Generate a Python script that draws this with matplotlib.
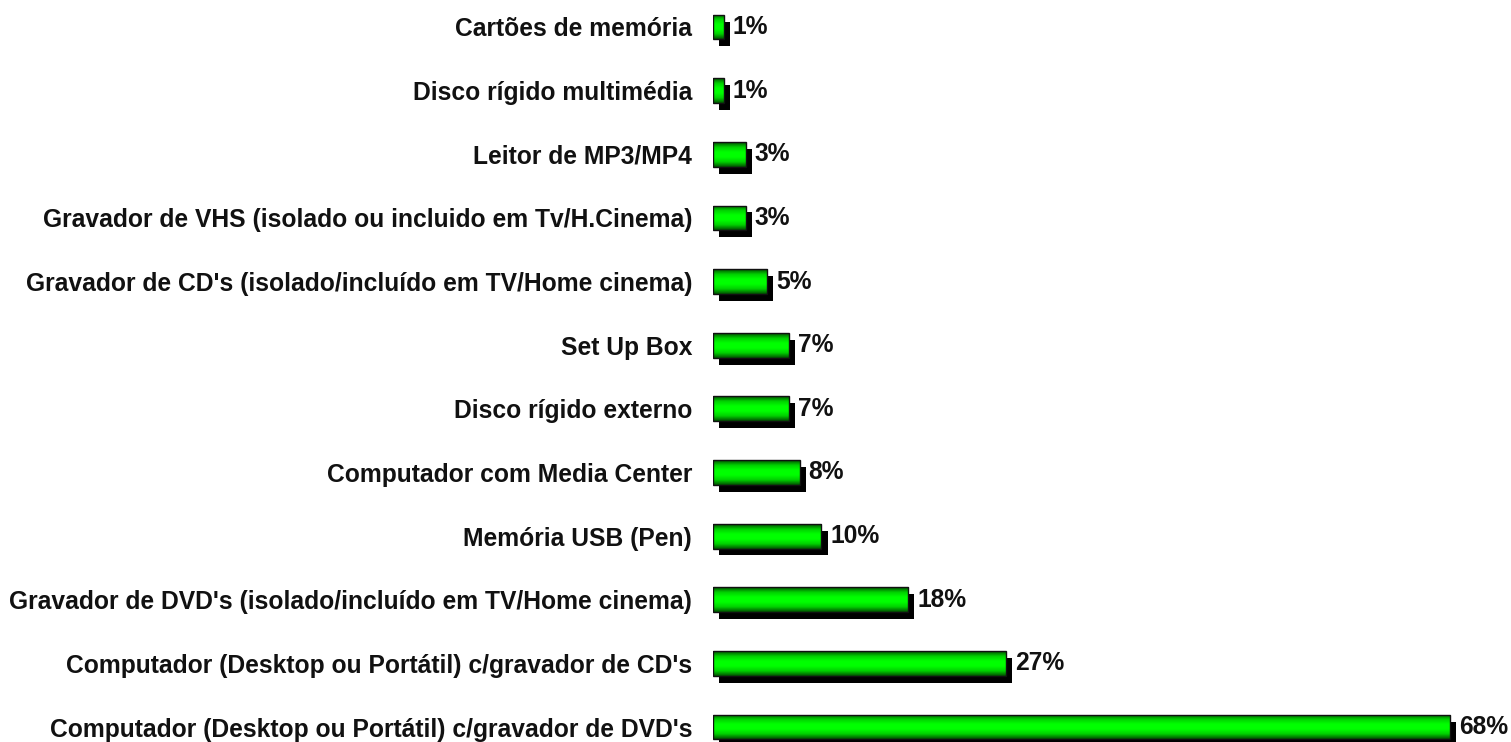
import numpy as np
import matplotlib
matplotlib.use("Agg")
from matplotlib import pyplot as plt
from matplotlib import patheffects as pe
from matplotlib.colors import LinearSegmentedColormap

labels = [
    "Cartões de memória",
    "Disco rígido multimédia",
    "Leitor de MP3/MP4",
    "Gravador de VHS (isolado ou incluido em Tv/H.Cinema)",
    "Gravador de CD's (isolado/incluído em TV/Home cinema)",
    "Set Up Box",
    "Disco rígido externo",
    "Computador com Media Center",
    "Memória USB (Pen)",
    "Gravador de DVD's (isolado/incluído em TV/Home cinema)",
    "Computador (Desktop ou Portátil) c/gravador de CD's",
    "Computador (Desktop ou Portátil) c/gravador de DVD's",
]
values = [1, 1, 3, 3, 5, 7, 7, 8, 10, 18, 27, 68]

plt.rcParams['font.family'] = ['Liberation Sans', 'DejaVu Sans']

W, H = 1511, 742
fig = plt.figure(figsize=(W / 100, H / 100), dpi=100)
left_px = 713
ax = fig.add_axes([left_px / W, 0, (W - left_px) / W, 1])

px_per_unit = 10.84
ax.set_xlim(0, (W - left_px) / px_per_unit)
row_px, top_px = 63.64, 27
ax.set_ylim((H - top_px) / row_px, -top_px / row_px)

ypos = np.arange(len(values))
bh = 0.39
bars = ax.barh(ypos, values, height=bh, color="#00e000", edgecolor="none",
               zorder=2,
               path_effects=[pe.SimplePatchShadow(offset=(4.5, -5), shadow_rgbFace="black", alpha=1),
                             pe.Normal()])

cmap = LinearSegmentedColormap.from_list("g", ["#005000", "#00d000", "#00ff00", "#00ff00", "#00d000", "#005000"])
grad = np.linspace(0, 1, 64).reshape(-1, 1)
for b, y, v in zip(bars, ypos, values):
    im = ax.imshow(grad, cmap=cmap, aspect="auto", interpolation="bilinear",
                   extent=(0, v, y + bh / 2, y - bh / 2), zorder=3)
    im.set_clip_path(b)

ax.barh(ypos, values, height=bh, fill=False, edgecolor="#101010", linewidth=1.0, zorder=4)

for y, v in zip(ypos, values):
    ax.annotate(f"{v}%", (v, y), xytext=(6.5, 0), textcoords="offset points",
                va="center", ha="left", fontsize=17.75, fontweight="bold", color="#111111",
                annotation_clip=False)

ax.set_yticks(ypos)
ax.set_yticklabels(labels, fontsize=17.75, fontweight="bold", color="#111111")
ax.tick_params(axis="y", length=0, pad=15)
ax.set_xticks([])
for s in ax.spines.values():
    s.set_visible(False)

fig.savefig("out.png", dpi=100)
